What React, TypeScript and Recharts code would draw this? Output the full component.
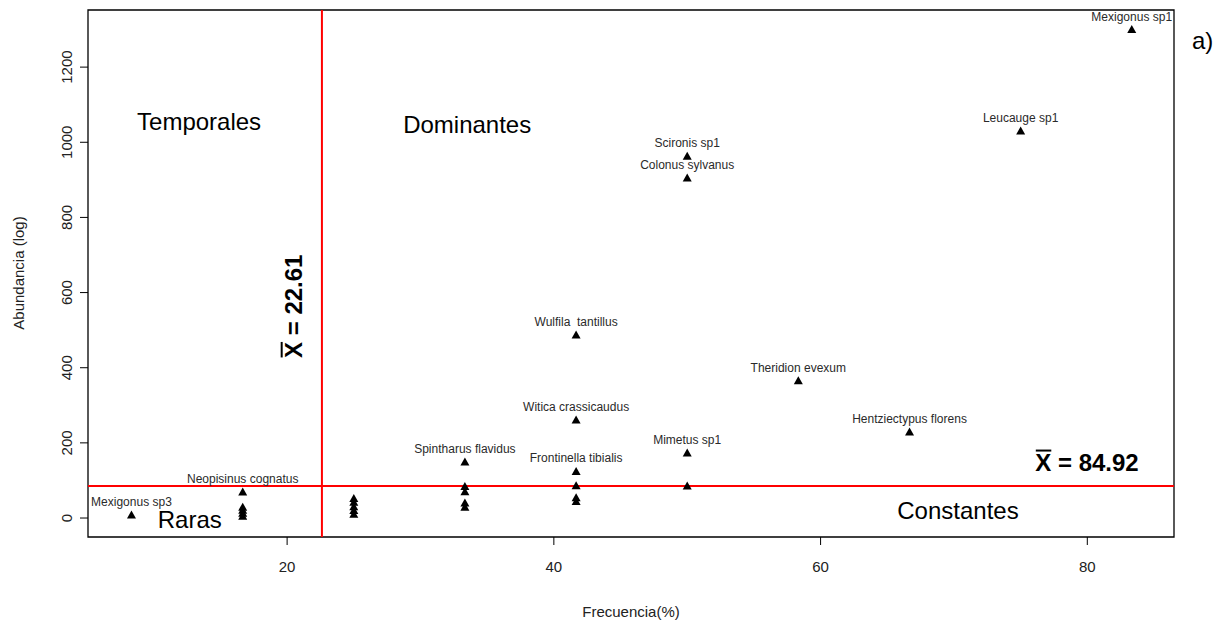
import React from "react";
import {
  Label,
  ReferenceArea,
  ReferenceDot,
  ReferenceLine,
  Scatter,
  ScatterChart,
  XAxis,
  YAxis,
} from "recharts";

// frecuencia (%) de cada especie
const frecuencia = [
  8.33, 16.67, 16.67, 16.67, 16.67, 16.67, 25, 25, 25, 25, 25, 33.33, 33.33,
  33.33, 33.33, 33.33, 41.67, 41.67, 41.67, 41.67, 41.67, 41.67, 50, 50, 50,
  50, 58.33, 66.67, 75, 83.33,
];

// abundancia de cada especie
const abundancia = [
  8, 69, 5, 13, 21, 29, 10, 20, 30, 42, 52, 149, 84, 70, 40, 29, 487, 261, 124,
  86, 54, 44, 963, 905, 173, 85, 365, 229, 1030, 1300,
];

// nombres (solo las especies rotuladas)
const especies = [
  "Mexigonus sp3", "Neopisinus cognatus", "", "", "", "", "", "", "", "", "",
  "Spintharus flavidus", "", "", "", "", "Wulfila  tantillus",
  "Witica crassicaudus", "Frontinella tibialis", "", "", "", "Scironis sp1",
  "Colonus sylvanus", "Mimetus sp1", "", "Theridion evexum",
  "Hentziectypus florens", "Leucauge sp1", "Mexigonus sp1",
];

const xTicks = [20, 40, 60, 80];
const yTicks = [0, 200, 400, 600, 800, 1000, 1200];

const mediaFrecuencia = 22.61;
const mediaAbundancia = 84.92;

const puntos = frecuencia.map((f, i) => ({
  frecuencia: f,
  abundancia: abundancia[i],
  nombre: especies[i],
}));

const X_DOMAIN = [5.07, 86.5];
const Y_DOMAIN = [-50.5, 1352];
const FONT = "Arial, 'Liberation Sans', sans-serif";

function Triangle(props: any) {
  const { cx, cy, payload } = props;
  return (
    <g>
      <path
        d={`M${cx},${cy - 4.5} L${cx + 4.5},${cy + 3.5} L${cx - 4.5},${cy + 3.5} Z`}
        fill="#000"
      />
      {payload.nombre ? (
        <text
          x={cx}
          y={cy - 9}
          textAnchor="middle"
          fontSize={12}
          fontFamily={FONT}
          fill="#2a2a2a"
          style={{ whiteSpace: "pre" }}
        >
          {payload.nombre}
        </text>
      ) : null}
    </g>
  );
}

function YTick(props: any) {
  const { x, y, payload } = props;
  return (
    <text
      x={x}
      y={y}
      transform={`rotate(-90 ${x} ${y})`}
      textAnchor="middle"
      fontSize={15}
      fontFamily={FONT}
      fill="#222"
    >
      {payload.value}
    </text>
  );
}

const regionText = (text: string) => (props: any) => (
  <text
    x={props.cx}
    y={props.cy}
    textAnchor="middle"
    dominantBaseline="central"
    fontSize={24}
    fontFamily={FONT}
    fill="#000"
  >
    {text}
  </text>
);

// "X̄ = valor" en negrita, con la barra dibujada sobre la X
function MeanLabel({ cx, cy, value, vertical }: any) {
  const xw = 16;
  return (
    <g transform={`translate(${cx} ${cy})${vertical ? " rotate(-90)" : ""}`}>
      <text
        x={0}
        y={0}
        fontSize={24}
        fontWeight="bold"
        fontFamily={FONT}
        fill="#000"
      >
        {`X = ${value}`}
      </text>
      <line x1={0.5} x2={xw} y1={-20.5} y2={-20.5} stroke="#000" strokeWidth={2} />
    </g>
  );
}

export default function App() {
  return (
    <div style={{ position: "absolute", left: 0, top: 0, width: 1221, height: 623, background: "#fff" }}>
      <ScatterChart
        width={1221}
        height={623}
        margin={{ top: 10, right: 47, bottom: 0, left: 0 }}
      >
        <XAxis
          type="number"
          dataKey="frecuencia"
          domain={X_DOMAIN}
          ticks={xTicks}
          allowDataOverflow
          height={86}
          axisLine={false}
          tickSize={8}
          tickMargin={16}
          tickLine={{ stroke: "#000" }}
          tick={{ fontSize: 15, fill: "#222", fontFamily: FONT }}
        >
          <Label
            value="Frecuencia(%)"
            position="insideBottom"
            offset={6}
            fontSize={15}
            fill="#222"
            fontFamily={FONT}
          />
        </XAxis>
        <YAxis
          type="number"
          dataKey="abundancia"
          domain={Y_DOMAIN}
          ticks={yTicks}
          allowDataOverflow
          width={88}
          axisLine={false}
          tickSize={8}
          tickMargin={8}
          tickLine={{ stroke: "#000" }}
          tick={<YTick />}
        >
          <Label
            content={() => (
              <text
                x={18}
                y={273}
                transform="rotate(-90 18 273)"
                textAnchor="middle"
                dominantBaseline="central"
                fontSize={15}
                fill="#222"
                fontFamily={FONT}
              >
                Abundancia (log)
              </text>
            )}
          />
        </YAxis>

        <ReferenceArea
          x1={X_DOMAIN[0]}
          x2={X_DOMAIN[1]}
          y1={Y_DOMAIN[0]}
          y2={Y_DOMAIN[1]}
          fill="none"
          stroke="#000"
          strokeWidth={1.3}
          fillOpacity={0}
        />

        <Scatter
          data={puntos}
          shape={<Triangle />}
          isAnimationActive={false}
        />

        <ReferenceLine x={mediaFrecuencia} stroke="#ff0000" strokeWidth={2} />
        <ReferenceLine y={mediaAbundancia} stroke="#ff0000" strokeWidth={2} />

        <ReferenceDot x={13.4} y={1056} shape={regionText("Temporales")} />
        <ReferenceDot x={33.5} y={1046} shape={regionText("Dominantes")} />
        <ReferenceDot x={12.7} y={-5} shape={regionText("Raras")} />
        <ReferenceDot x={70.3} y={21} shape={regionText("Constantes")} />

        <ReferenceDot
          x={76.1}
          y={125}
          shape={(p: any) => <MeanLabel cx={p.cx} cy={p.cy} value={mediaAbundancia} />}
        />
        <ReferenceDot
          x={21.13}
          y={426}
          shape={(p: any) => <MeanLabel cx={p.cx} cy={p.cy} value={mediaFrecuencia} vertical />}
        />
      </ScatterChart>
      <div
        style={{
          position: "absolute",
          left: 1192,
          top: 27,
          fontSize: 24,
          fontFamily: FONT,
          color: "#000",
        }}
      >
        a)
      </div>
    </div>
  );
}
